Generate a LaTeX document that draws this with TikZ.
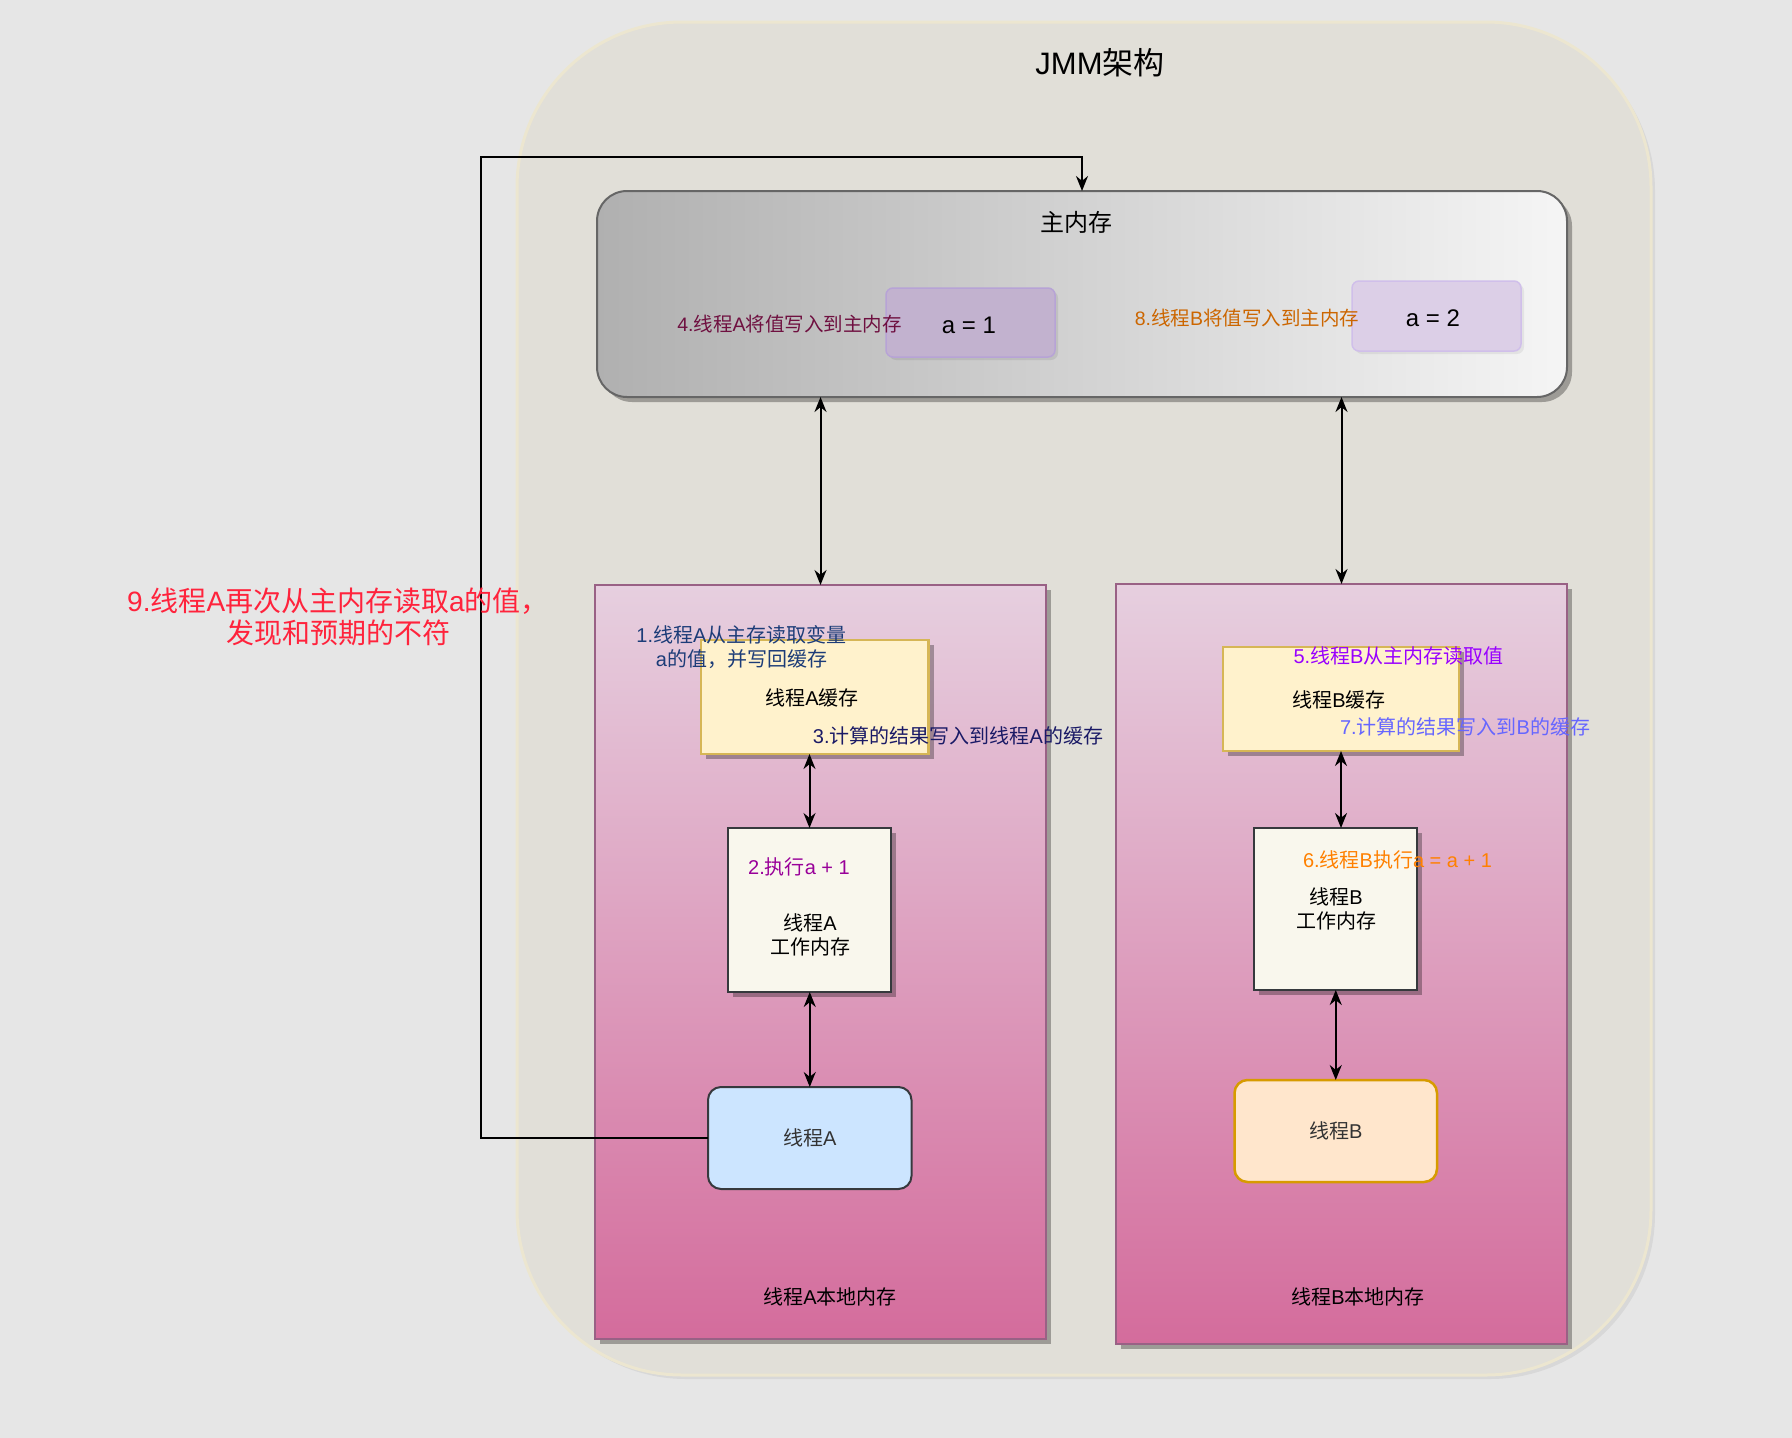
\documentclass[tikz,border=0pt]{standalone}
\usepackage{fontspec}
\setmainfont{Noto Sans CJK SC}
\newfontfamily\latf{Liberation Sans}
\newcommand\latn[1]{{\latf #1}}
\usetikzlibrary{arrows.meta,shadows}
\definecolor{bgc}{HTML}{E6E6E6}
\definecolor{contfill}{HTML}{E1DFD8}
\definecolor{contdraw}{HTML}{ECE6D0}
\definecolor{memL}{HTML}{B0B0B0}
\definecolor{memR}{HTML}{F5F5F5}
\definecolor{memD}{HTML}{666666}
\definecolor{aoneF}{HTML}{C2B2CF}
\definecolor{aoneD}{HTML}{B7A3D6}
\definecolor{atwoF}{HTML}{DCCFE7}
\definecolor{atwoD}{HTML}{D0BFEA}
\definecolor{panT}{HTML}{E6CFDF}
\definecolor{panB}{HTML}{D46C9C}
\definecolor{panD}{HTML}{996185}
\definecolor{cacheF}{HTML}{FFF2CC}
\definecolor{cacheD}{HTML}{D6B656}
\definecolor{workF}{HTML}{F9F7ED}
\definecolor{darkD}{HTML}{36393D}
\definecolor{thAF}{HTML}{CCE5FF}
\definecolor{thBF}{HTML}{FFE6CC}
\definecolor{thBD}{HTML}{D79B00}
\definecolor{cFour}{HTML}{6F1040}
\definecolor{cEight}{HTML}{CC6600}
\definecolor{cOne}{HTML}{1C3C78}
\definecolor{cThree}{HTML}{1A1A66}
\definecolor{cTwo}{HTML}{990099}
\definecolor{cFive}{HTML}{9900FF}
\definecolor{cSeven}{HTML}{6666FF}
\definecolor{cSix}{HTML}{FF8000}
\definecolor{cNine}{HTML}{FF233C}
\definecolor{tgray}{HTML}{333333}
\begin{document}
\begin{tikzpicture}[x=1pt,y=-1pt,
  box/.style={rectangle,inner sep=0pt,outer sep=0pt},
  shd/.style={drop shadow={shadow xshift=5pt,shadow yshift=-5pt,opacity=0.3,fill=black}},
  lightshd/.style={drop shadow={shadow xshift=4pt,shadow yshift=-4pt,opacity=0.06,fill=black}},
  tx/.style={inner sep=0pt,align=center},
  fA/.style={font=\fontsize{20}{24}\selectfont},
  fB/.style={font=\fontsize{19.5}{24}\selectfont},
  dbl/.style={{Stealth[length=15pt,width=12pt]}-{Stealth[length=15pt,width=12pt]},line width=2pt},
  arr/.style={-{Stealth[length=15pt,width=12pt]},line width=2pt}]
\useasboundingbox (0,0) rectangle (1792,1438);
\fill[bgc] (0,0) rectangle (1792,1438);
% container
\node[box,lightshd,fill=contfill,draw=contdraw,line width=3pt,rounded corners=165pt,
  minimum width=1134pt,minimum height=1353pt] (jmm) at (1084,698.5) {};
\node[tx,font=\fontsize{31}{36}\selectfont] (title) at (1100,63) {\latn{JMM}架构};
% main memory
\node[box,shd,left color=memL,right color=memR,draw=memD,line width=2pt,rounded corners=30pt,
  minimum width=970pt,minimum height=206pt] (mem) at (1082,294) {};
\node[tx,font=\fontsize{24}{28}\selectfont] (memt) at (1076,222) {主内存};
\node[box,drop shadow={shadow xshift=3pt,shadow yshift=-3pt,opacity=0.08,fill=black},fill=aoneF,draw=aoneD,line width=1.5pt,rounded corners=7pt,
  minimum width=169pt,minimum height=69pt] (aone) at (970.5,322.5) {};
\node[tx,font=\fontsize{24}{28}\selectfont] (aonet) at (969,325) {\latn{a = 1}};
\node[box,drop shadow={shadow xshift=3pt,shadow yshift=-3pt,opacity=0.06,fill=black},fill=atwoF,draw=atwoD,line width=1.5pt,rounded corners=7pt,
  minimum width=169pt,minimum height=70pt] (atwo) at (1436.5,316) {};
\node[tx,font=\fontsize{24}{28}\selectfont] (atwot) at (1433,318) {\latn{a = 2}};
\node[tx,fB,text=cFour] (t4) at (789.5,324) {\latn{4.}线程\latn{A}将值写入到主内存};
\node[tx,fB,text=cEight] (t8) at (1247,318) {\latn{8.}线程\latn{B}将值写入到主内存};
% panels
\node[box,shd,top color=panT,bottom color=panB,draw=panD,line width=1.5pt,
  minimum width=451pt,minimum height=754pt] (pA) at (820.5,962) {};
\node[box,shd,top color=panT,bottom color=panB,draw=panD,line width=1.5pt,
  minimum width=451pt,minimum height=760pt] (pB) at (1341.5,964) {};
% caches
\node[box,shd,fill=cacheF,draw=cacheD,line width=2.5pt,
  minimum width=227.5pt,minimum height=114pt] (cA) at (814.75,697) {};
\node[box,shd,fill=cacheF,draw=cacheD,line width=2.5pt,
  minimum width=236pt,minimum height=104pt] (cB) at (1341,699) {};
% work memories
\node[box,shd,fill=workF,draw=darkD,line width=2.5pt,
  minimum width=163pt,minimum height=164pt] (wA) at (809.5,910) {};
\node[box,shd,fill=workF,draw=darkD,line width=2.5pt,
  minimum width=163pt,minimum height=162pt] (wB) at (1335.5,909) {};
% threads
\node[box,fill=thAF,draw=darkD,line width=2pt,rounded corners=13pt,text=tgray,fA,
  minimum width=203.5pt,minimum height=102pt] (tA) at (809.75,1138) {线程\latn{A}};
\node[box,fill=thBF,draw=thBD,line width=2.5pt,rounded corners=13pt,text=tgray,fA,
  minimum width=202.5pt,minimum height=102pt] (tB) at (1335.75,1131) {线程\latn{B}};
% connectors
\draw[dbl] (pA.north |- mem.south) -- (pA.north);
\draw[dbl] (pB.north |- mem.south) -- (pB.north);
\draw[dbl] (wA.north |- cA.south) -- (wA.north);
\draw[dbl] (cB.south) -- (cB.south |- wB.north);
\draw[dbl] (tA.north |- wA.south) -- (tA.north);
\draw[dbl] (tB.north |- wB.south) -- (tB.north);
\coordinate (lp) at (481,157);
\draw[arr] (tA.west) -| (lp) -| (mem.north);
% texts
\node[tx,fA] (cAt) at (812,698) {线程\latn{A}缓存};
\node[tx,fA] (cBt) at (1339,700) {线程\latn{B}缓存};
\node[tx,fA] (wAt) at (810,935) {线程\latn{A}\\工作内存};
\node[tx,fA] (wBt) at (1336,909) {线程\latn{B}\\工作内存};
\node[tx,fA] (lA) at (830,1297) {线程\latn{A}本地内存};
\node[tx,fA] (lB) at (1358,1297) {线程\latn{B}本地内存};
\node[tx,fA,text=cOne] (t1) at (741.5,647) {\latn{1.}线程\latn{A}从主存读取变量\\\latn{a}的值，并写回缓存};
\node[tx,fA,text=cThree] (t3) at (958,736) {\latn{3.}计算的结果写入到线程\latn{A}的缓存};
\node[tx,fA,text=cTwo] (t2) at (799,867) {\latn{2.}执行\latn{a + 1}};
\node[tx,fA,text=cFive] (t5) at (1398.5,656) {\latn{5.}线程\latn{B}从主内存读取值};
\node[tx,fA,text=cSeven] (t7) at (1465,727) {\latn{7.}计算的结果写入到\latn{B}的缓存};
\node[tx,fA,text=cSix] (t6) at (1397.5,860) {\latn{6.}线程\latn{B}执行\latn{a = a + 1}};
\node[tx,text=cNine,font=\fontsize{28}{32}\selectfont] (t9) at (338,617) {\latn{9.}线程\latn{A}再次从主内存读取\latn{a}的值，\\发现和预期的不符};
\end{tikzpicture}
\end{document}
